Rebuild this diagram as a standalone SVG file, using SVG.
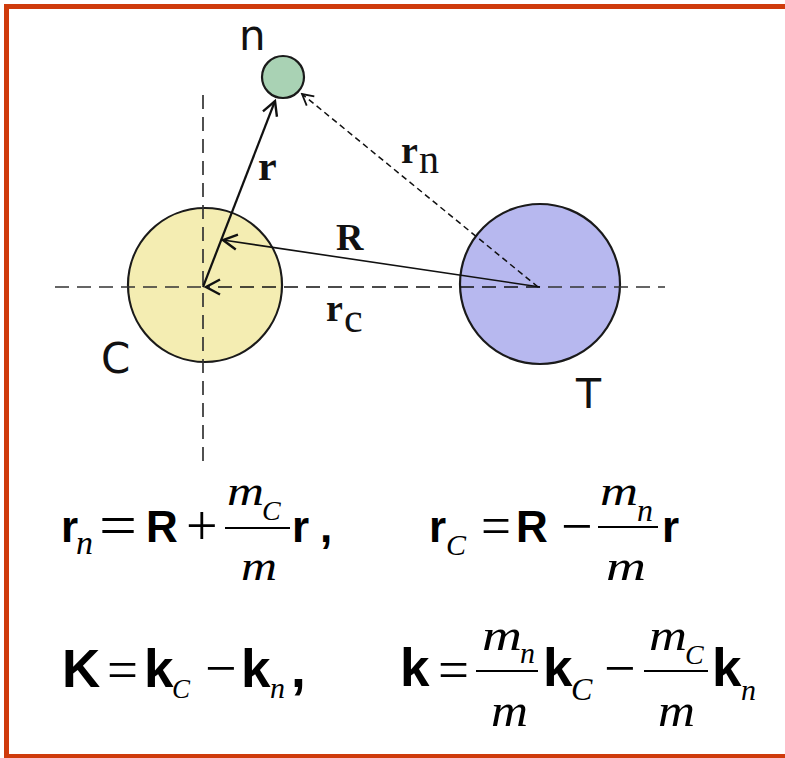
<svg xmlns="http://www.w3.org/2000/svg" width="785" height="758" viewBox="0 0 785 758">
<style>
.border{fill:#cf3b0c}
.ball{stroke:#1a1a1a;stroke-width:2.2}
.axis{fill:none;stroke:#333;stroke-width:1.7;stroke-dasharray:14 8}
.vec{fill:none;stroke:#111}
.lab{font-family:"DejaVu Sans","Open Sans",sans-serif;fill:#111}
.vb{font-family:"Liberation Serif","Times New Roman",serif;font-weight:bold;fill:#111}
.vs{font-family:"Liberation Serif","Times New Roman",serif;fill:#111}
.eb{font-family:"Liberation Sans",Arial,sans-serif;font-weight:bold;fill:#000}
.ei{font-family:"Liberation Serif","Times New Roman",serif;font-style:italic;fill:#000}
.op{font-family:"Liberation Serif","Times New Roman",serif;fill:#000}
.bar{stroke:#000;stroke-width:2}
</style>
<defs>
<marker id="ah" markerUnits="userSpaceOnUse" markerWidth="20" markerHeight="20" refX="17" refY="10" orient="auto">
<path d="M3,2.5 L17,10 L3,17.5" fill="none" stroke="#111" stroke-width="2.4"/>
</marker>
<marker id="ahs" markerUnits="userSpaceOnUse" markerWidth="16" markerHeight="16" refX="14" refY="8" orient="auto">
<path d="M3,2 L14,8 L3,14" fill="none" stroke="#111" stroke-width="1.8"/>
</marker>
</defs>
<rect width="785" height="758" fill="#fff"/>
<g id="frame">
<rect class="border" x="4" y="4" width="781" height="5"/>
<rect class="border" x="4" y="4" width="5" height="754"/>
<rect class="border" x="4" y="754" width="781" height="4"/>
</g>
<g id="node-C">
<circle class="ball" cx="205" cy="285" r="77" fill="#f4edb2"/>
<text class="lab" x="101" y="373" font-size="42">C</text>
</g>
<g id="node-T">
<circle class="ball" cx="540" cy="284" r="80" fill="#b7b8ef"/>
<text class="lab" x="576" y="408" font-size="41">T</text>
</g>
<g id="node-n">
<circle class="ball" cx="283" cy="77" r="21" fill="#a9d2b4"/>
<text class="lab" x="239" y="50" font-size="42">n</text>
</g>
<g id="axes">
<line class="axis" x1="55" y1="287" x2="203" y2="287"/>
<line class="axis" x1="548" y1="287" x2="665" y2="287"/>
<line class="axis" x1="203" y1="95" x2="203" y2="463"/>
</g>
<g id="connectors">
<line class="vec" x1="203" y1="287" x2="275" y2="101" stroke-width="2.2" marker-end="url(#ah)"/>
<line class="vec" x1="540" y1="287" x2="223" y2="240" stroke-width="1.6" marker-end="url(#ah)"/>
<line class="vec" x1="540" y1="287" x2="206" y2="287" stroke-width="1.7" stroke-dasharray="14 8" marker-end="url(#ah)"/>
<line class="vec" x1="538" y1="287" x2="302" y2="94" stroke-width="1.5" stroke-dasharray="6 4" marker-end="url(#ahs)"/>
</g>
<g id="vector-labels">
<text class="vb" x="258" y="180" font-size="42">r</text>
<text class="vb" x="336" y="250" font-size="38">R</text>
<text class="vb" x="401" y="163" font-size="38">r</text>
<text class="vs" x="419" y="173" font-size="40">n</text>
<text class="vb" x="326" y="321" font-size="38">r</text>
<text class="vs" x="344" y="332" font-size="42">c</text>
</g>
<g id="eq1">
<text class="eb" x="61" y="542" font-size="44">r</text>
<text class="ei" x="76" y="554" font-size="34">n</text>
<text class="op" x="99" y="545" font-size="60" textLength="38" lengthAdjust="spacingAndGlyphs">=</text>
<text class="eb" x="146" y="542" font-size="44">R</text>
<text class="op" x="186" y="545" font-size="56">+</text>
<line class="bar" x1="225" y1="528" x2="290" y2="528"/>
<text class="ei" x="227" y="505" font-size="42" textLength="37" lengthAdjust="spacingAndGlyphs">m</text>
<text class="ei" x="262" y="520" font-size="28">C</text>
<text class="ei" x="241" y="580" font-size="42" textLength="36" lengthAdjust="spacingAndGlyphs">m</text>
<text class="eb" x="292" y="542" font-size="44">r</text>
<text class="eb" x="320" y="542" font-size="44">,</text>
</g>
<g id="eq2">
<text class="eb" x="429" y="542" font-size="44">r</text>
<text class="ei" x="446" y="555" font-size="30">C</text>
<text class="op" x="481" y="545" font-size="56" textLength="30" lengthAdjust="spacingAndGlyphs">=</text>
<text class="eb" x="516" y="542" font-size="44">R</text>
<text class="op" x="561" y="545" font-size="56">−</text>
<line class="bar" x1="598" y1="527" x2="658" y2="527"/>
<text class="ei" x="600" y="505" font-size="42" textLength="38" lengthAdjust="spacingAndGlyphs">m</text>
<text class="ei" x="637" y="521" font-size="32">n</text>
<text class="ei" x="606" y="580" font-size="42" textLength="40" lengthAdjust="spacingAndGlyphs">m</text>
<text class="eb" x="662" y="542" font-size="44">r</text>
</g>
<g id="eq3">
<text class="eb" x="62" y="687" font-size="53">K</text>
<text class="op" x="107" y="689" font-size="56" textLength="31" lengthAdjust="spacingAndGlyphs">=</text>
<text class="eb" x="144" y="687" font-size="53">k</text>
<text class="ei" x="172" y="698" font-size="27">C</text>
<text class="op" x="205" y="687" font-size="56">−</text>
<text class="eb" x="241" y="687" font-size="53">k</text>
<text class="ei" x="270" y="698" font-size="30">n</text>
<text class="eb" x="291" y="687" font-size="53">,</text>
</g>
<g id="eq4">
<text class="eb" x="400" y="686" font-size="53">k</text>
<text class="op" x="438" y="689" font-size="56" textLength="31" lengthAdjust="spacingAndGlyphs">=</text>
<line class="bar" x1="476" y1="671" x2="538" y2="671"/>
<text class="ei" x="482" y="650" font-size="44" textLength="40" lengthAdjust="spacingAndGlyphs">m</text>
<text class="ei" x="520" y="663" font-size="30">n</text>
<text class="ei" x="491" y="726" font-size="46" textLength="37" lengthAdjust="spacingAndGlyphs">m</text>
<text class="eb" x="543" y="686" font-size="53">k</text>
<text class="ei" x="571" y="700" font-size="32">C</text>
<text class="op" x="604" y="687" font-size="56">−</text>
<line class="bar" x1="644" y1="671" x2="708" y2="671"/>
<text class="ei" x="649" y="650" font-size="44" textLength="38" lengthAdjust="spacingAndGlyphs">m</text>
<text class="ei" x="685" y="664" font-size="28">C</text>
<text class="ei" x="658" y="726" font-size="46" textLength="37" lengthAdjust="spacingAndGlyphs">m</text>
<text class="eb" x="712" y="686" font-size="53">k</text>
<text class="ei" x="741" y="700" font-size="30">n</text>
</g>
</svg>
